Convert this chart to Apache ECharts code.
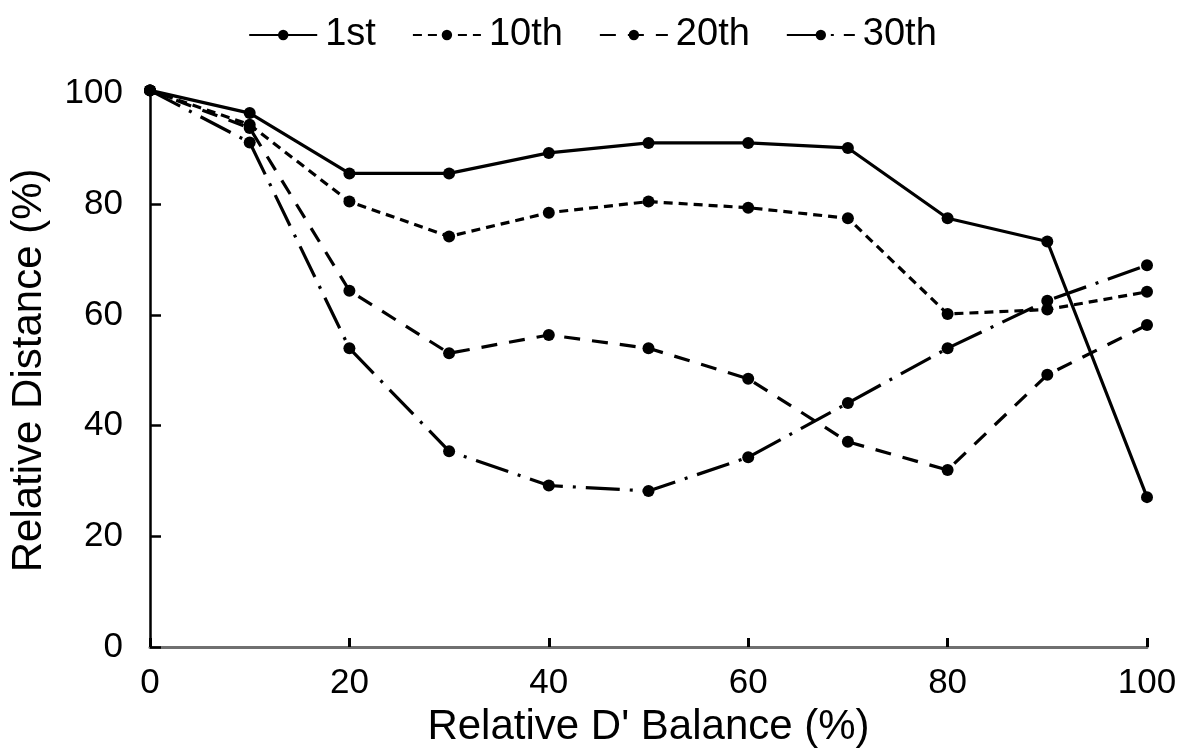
<!DOCTYPE html>
<html>
<head>
<meta charset="utf-8">
<script src="https://cdn.jsdelivr.net/npm/echarts@6/dist/echarts.min.js"></script>
<style>
  html, body { margin: 0; padding: 0; background: #fff; }
  #chart { width: 1185px; height: 753px; }
</style>
</head>
<body>
<div id="chart"></div>
<script>
// Relative D' balance (%) on the x axis
const balance = [0, 10, 20, 30, 40, 50, 60, 70, 80, 90, 100];

// Relative distance (%) for each iteration
const iter1st  = [100.6, 96.5, 85.6, 85.6, 89.3, 91.1, 91.1, 90.2, 77.5, 73.3, 27.1];
const iter10th = [100.6, 94.4, 80.5, 74.2, 78.5, 80.5, 79.4, 77.5, 60.2, 61.0, 64.2];
const iter20th = [100.6, 93.8, 64.4, 53.1, 56.4, 54.0, 48.5, 37.1, 32.0, 49.2, 58.2];
const iter30th = [100.6, 91.2, 54.0, 35.4, 29.2, 28.2, 34.3, 44.1, 54.0, 62.6, 69.0];

const seriesNames = ['1st', '10th', '20th', '30th'];
const xTicks = [0, 20, 40, 60, 80, 100];
const yTicks = [0, 20, 40, 60, 80, 100];

const FONT = '"Liberation Sans", Arial, Helvetica, sans-serif';

function pairs(values) {
  return balance.map((x, i) => [x, values[i]]);
}

function makeSeries(name, values, dash) {
  return {
    name: name,
    type: 'line',
    data: pairs(values),
    symbol: 'circle',
    symbolSize: 12,
    clip: false,
    itemStyle: { color: '#000' },
    lineStyle: { color: '#000', width: 3.2, type: dash },
    emphasis: { disabled: true },
    animation: false
  };
}

const chart = echarts.init(document.getElementById('chart'), null, { renderer: 'canvas' });

chart.setOption({
  backgroundColor: '#fff',
  textStyle: { fontFamily: FONT, color: '#000' },
  legend: {
    data: seriesNames,
    top: 11,
    left: 'center',
    itemWidth: 68,
    itemHeight: 13,
    itemGap: 36,
    textStyle: { fontFamily: FONT, fontSize: 38, color: '#000', padding: [0, 0, 0, 3] }
  },
  grid: { left: 150, right: 38, top: 93.7, bottom: 102.3, containLabel: false },
  xAxis: {
    type: 'value',
    min: xTicks[0],
    max: xTicks[xTicks.length - 1],
    interval: 20,
    name: "Relative D' Balance (%)",
    nameLocation: 'middle',
    nameGap: 52,
    nameTextStyle: { fontFamily: FONT, fontSize: 42, color: '#000' },
    axisLine: { show: true, lineStyle: { color: '#707070', width: 3 } },
    axisTick: { show: true, inside: true, length: 9, lineStyle: { color: '#000', width: 3 } },
    axisLabel: { fontFamily: FONT, fontSize: 35, color: '#000', margin: 19 },
    splitLine: { show: false }
  },
  yAxis: {
    type: 'value',
    min: yTicks[0],
    max: yTicks[yTicks.length - 1],
    interval: 20,
    name: 'Relative Distance (%)',
    nameLocation: 'middle',
    nameGap: 100,
    nameTextStyle: { fontFamily: FONT, fontSize: 42, color: '#000' },
    axisLine: { show: true, lineStyle: { color: '#000', width: 2.5 } },
    axisTick: { show: true, inside: true, length: 11, lineStyle: { color: '#000', width: 2.5 } },
    axisLabel: { fontFamily: FONT, fontSize: 35, color: '#000', margin: 27 },
    splitLine: { show: false }
  },
  series: [
    makeSeries(seriesNames[0], iter1st, 'solid'),
    makeSeries(seriesNames[1], iter10th, [9, 6]),
    makeSeries(seriesNames[2], iter20th, [16, 12]),
    makeSeries(seriesNames[3], iter30th, [34, 10, 3, 10])
  ]
});
</script>
</body>
</html>
